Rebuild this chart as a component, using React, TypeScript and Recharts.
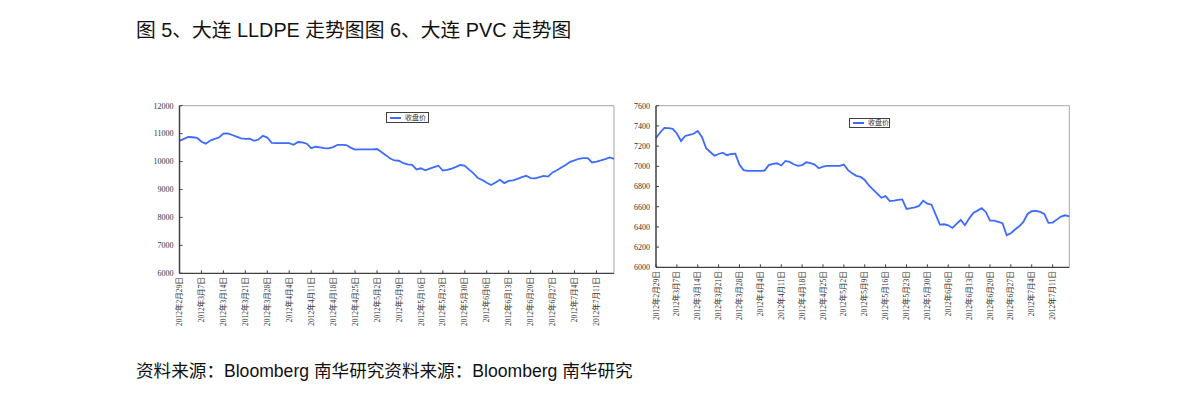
import React from 'react';
import { LineChart, Line, XAxis, YAxis, Legend, ReferenceLine } from 'recharts';

// 周度刻度标签（每 5 个交易日一个）
const dateTicks = [
  '2012年2月29日', '2012年3月7日', '2012年3月14日', '2012年3月21日', '2012年3月28日',
  '2012年4月4日', '2012年4月11日', '2012年4月18日', '2012年4月25日', '2012年5月2日',
  '2012年5月9日', '2012年5月16日', '2012年5月23日', '2012年5月30日', '2012年6月6日',
  '2012年6月13日', '2012年6月20日', '2012年6月27日', '2012年7月4日', '2012年7月11日',
];

// 大连 LLDPE 收盘价（逐日）
const lldpeClose = [
  10740, 10810, 10880, 10870, 10850, 10710, 10640, 10750, 10810, 10860,
  11000, 11010, 10950, 10890, 10830, 10810, 10820, 10740, 10790, 10920,
  10860, 10670, 10660, 10660, 10660, 10660, 10600, 10700, 10690, 10640,
  10480, 10530, 10510, 10480, 10470, 10520, 10600, 10600, 10590, 10500,
  10430, 10440, 10440, 10440, 10440, 10450, 10340, 10230, 10110, 10040,
  10030, 9940, 9900, 9880, 9720, 9760, 9690, 9750, 9800, 9850,
  9680, 9700, 9750, 9810, 9880, 9850, 9710, 9580, 9410, 9340,
  9240, 9160, 9250, 9350, 9230, 9310, 9330, 9380, 9440, 9490,
  9410, 9400, 9440, 9490, 9460, 9610, 9690, 9790, 9880, 9990,
  10040, 10100, 10120, 10120, 9970, 10000, 10040, 10090, 10150, 10100,
];

// 大连 PVC 收盘价（逐日）
const pvcClose = [
  7280, 7335, 7380, 7378, 7370, 7325, 7250, 7300, 7312, 7322,
  7350, 7290, 7180, 7142, 7106, 7122, 7135, 7110, 7122, 7125,
  7015, 6962, 6955, 6955, 6955, 6955, 6958, 7012, 7024, 7030,
  7008, 7053, 7043, 7020, 7005, 7012, 7040, 7032, 7017, 6980,
  6997, 7005, 7005, 7005, 7005, 7017, 6962, 6930, 6905, 6895,
  6865, 6810, 6770, 6730, 6688, 6705, 6655, 6660, 6667, 6672,
  6578, 6585, 6594, 6608, 6660, 6630, 6620, 6522, 6423, 6426,
  6416, 6390, 6430, 6469, 6416, 6482, 6538, 6561, 6585, 6548,
  6463, 6463, 6450, 6436, 6318, 6337, 6374, 6406, 6450, 6528,
  6555, 6558, 6548, 6528, 6440, 6443, 6472, 6502, 6515, 6505,
];

const lldpeYTicks = [6000, 7000, 8000, 9000, 10000, 11000, 12000];
const pvcYTicks = [6000, 6200, 6400, 6600, 6800, 7000, 7200, 7400, 7600];

const lldpeData = lldpeClose.map((v, i) => ({ idx: i, close: v }));
const pvcData = pvcClose.map((v, i) => ({ idx: i, close: v }));
const xTicks = dateTicks.map((_, i) => i * 5);

const LINE_COLOR = '#3d6bff';
const AXIS_COLOR = '#404040';
const FRAME_COLOR = '#a6a6a6';
const TICK_FONT = "'Liberation Serif', 'Noto Sans CJK SC', serif";
const TEXT_FONT = "'Liberation Sans', 'Noto Sans CJK SC', sans-serif";

// x 轴刻度：向内的短刻度线 + 竖排日期
function DateTick({ x, y, payload }: any) {
  const label = dateTicks[Math.round(payload.value / 5)];
  return (
    <g>
      <line x1={x} y1={y} x2={x} y2={y - 3} stroke={AXIS_COLOR} />
      <text
        transform={`translate(${x},${y + 4}) rotate(-90)`}
        textAnchor="end"
        dy="0.35em"
        fontSize={7.5}
        fontFamily={TICK_FONT}
        fill="#333"
      >
        {label}
      </text>
    </g>
  );
}

// y 轴刻度：向内的短刻度线 + 数值
function ValueTick({ x, y, payload }: any) {
  return (
    <g>
      <line x1={x + 6} y1={y} x2={x + 9} y2={y} stroke={AXIS_COLOR} />
      <text x={x} y={y} dy="0.35em" textAnchor="end" fontSize={8} fontFamily={TICK_FONT} fill="#333">
        {payload.value}
      </text>
    </g>
  );
}

function LegendBox({ width, height }: { width: number; height: number }) {
  return (
    <div
      style={{
        width,
        height,
        boxSizing: 'border-box',
        border: `1px solid ${AXIS_COLOR}`,
        background: '#fff',
        display: 'flex',
        alignItems: 'center',
        paddingLeft: 3,
        fontFamily: TICK_FONT,
        fontSize: 7,
        lineHeight: '8px',
        color: '#333',
        whiteSpace: 'nowrap',
        overflow: 'hidden',
      }}
    >
      <span style={{ display: 'inline-block', flex: 'none', width: 11, height: 2, background: LINE_COLOR, marginRight: 4 }} />
      <span style={{ flex: 'none' }}>收盘价</span>
    </div>
  );
}

interface PriceChartProps {
  data: { idx: number; close: number }[];
  yTicks: number[];
  width: number;
  height: number;
  margin: { top: number; right: number; bottom: number; left: number };
  yAxisWidth: number;
  legendPos: { left: number; top: number; width: number; height: number };
}

function PriceChart({ data, yTicks, width, height, margin, yAxisWidth, legendPos }: PriceChartProps) {
  const yMin = yTicks[0];
  const yMax = yTicks[yTicks.length - 1];
  return (
    <LineChart width={width} height={height} data={data} margin={margin}>
      <XAxis
        dataKey="idx"
        type="number"
        domain={[0, data.length - 1]}
        ticks={xTicks}
        interval={0}
        tickSize={0}
        tickMargin={0}
        tickLine={false}
        tick={<DateTick />}
        height={55}
        axisLine={{ stroke: AXIS_COLOR, strokeWidth: 1.2 }}
      />
      <YAxis
        type="number"
        domain={[yMin, yMax]}
        ticks={yTicks}
        interval={0}
        tickSize={0}
        tickMargin={6}
        tickLine={false}
        tick={<ValueTick />}
        width={yAxisWidth}
        axisLine={{ stroke: AXIS_COLOR, strokeWidth: 1.5 }}
      />
      <ReferenceLine y={yMax} stroke={FRAME_COLOR} />
      <ReferenceLine x={data.length - 1} stroke={FRAME_COLOR} />
      <Legend
        layout="horizontal"
        verticalAlign="middle"
        wrapperStyle={{ position: 'absolute', left: legendPos.left, top: legendPos.top, width: legendPos.width }}
        content={() => <LegendBox width={legendPos.width} height={legendPos.height} />}
      />
      <Line
        type="linear"
        dataKey="close"
        name="收盘价"
        stroke={LINE_COLOR}
        strokeWidth={1.8}
        dot={false}
        isAnimationActive={false}
      />
    </LineChart>
  );
}

export default function App() {
  return (
    <div style={{ position: 'absolute', left: 0, top: 0, width: 1191, height: 401, background: '#fff' }}>
      <div
        style={{
          position: 'absolute',
          left: 136,
          top: 18,
          fontFamily: TEXT_FONT,
          fontSize: 19.8,
          lineHeight: '24px',
          color: '#111',
          whiteSpace: 'nowrap',
        }}
      >
        图 5、大连 LLDPE 走势图图 6、大连 PVC 走势图
      </div>

      <div style={{ position: 'absolute', left: 130, top: 95 }}>
        <PriceChart
          data={lldpeData}
          yTicks={lldpeYTicks}
          width={500}
          height={240}
          margin={{ top: 10.7, right: 16, bottom: 6.7, left: 5 }}
          yAxisWidth={44.5}
          legendPos={{ left: 256, top: 17, width: 43, height: 11 }}
        />
      </div>

      <div style={{ position: 'absolute', left: 615, top: 95 }}>
        <PriceChart
          data={pvcData}
          yTicks={pvcYTicks}
          width={470}
          height={240}
          margin={{ top: 10.7, right: 15.7, bottom: 12.7, left: 5 }}
          yAxisWidth={36}
          legendPos={{ left: 234, top: 23, width: 41, height: 10 }}
        />
      </div>

      <div
        style={{
          position: 'absolute',
          left: 136,
          top: 359,
          fontFamily: TEXT_FONT,
          fontSize: 17.6,
          lineHeight: '24px',
          color: '#111',
          whiteSpace: 'nowrap',
        }}
      >
        资料来源：Bloomberg 南华研究资料来源：Bloomberg 南华研究
      </div>
    </div>
  );
}
